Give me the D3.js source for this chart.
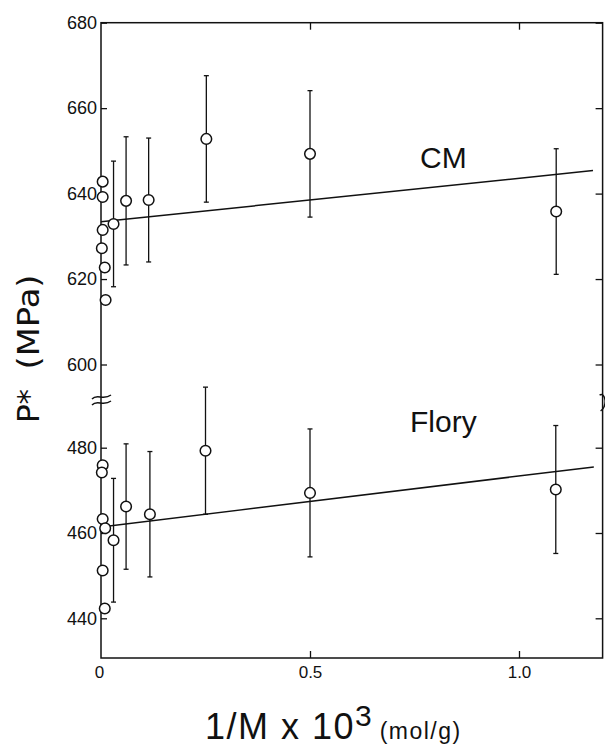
<!DOCTYPE html>
<html>
<head>
<meta charset="utf-8">
<script src="https://cdn.jsdelivr.net/npm/d3@7"></script>
<style>
  html, body { margin: 0; padding: 0; background: #fff; }
  svg { display: block; }
  text { font-family: "Liberation Sans", Arial, sans-serif; fill: #111; }
</style>
</head>
<body>
<svg id="chart" width="605" height="751"></svg>
<script>
// ---------- data ----------
// CM series: points near 1/M = 0 without error bars
const cmClusterX = [0.004, 0.004, 0.004, 0.002, 0.009, 0.011];
const cmClusterY = [642.8, 639.2, 631.5, 627.2, 622.7, 615.1];
// CM series: points with error bars
const cmX   = [0.030, 0.060, 0.114, 0.252, 0.500, 1.089];
const cmY   = [632.9, 638.3, 638.5, 652.8, 649.3, 635.8];
const cmErr = [14.7, 15.0, 14.5, 14.8, 14.8, 14.7];
const cmFit = [[0, 633.4], [1.177, 645.4]];

// Flory series
const floryClusterX = [0.004, 0.002, 0.004, 0.010, 0.004, 0.009];
const floryClusterY = [475.9, 474.2, 463.3, 461.1, 451.2, 442.3];
const floryX   = [0.030, 0.060, 0.117, 0.250, 0.500, 1.088];
const floryY   = [458.3, 466.2, 464.4, 479.3, 469.4, 470.2];
const floryErr = [14.5, 14.7, 14.7, 14.9, 15.0, 15.0];
const floryFit = [[0, 461.4], [1.179, 475.5]];

// axes
const xTicks = [0, 0.5, 1.0];
const xTickLabels = ["0", "0.5", "1.0"];
const yUpperTicks = [600, 620, 640, 660, 680];
const yLowerTicks = [440, 460, 480];
const seriesLabels = ["CM", "Flory"];

// ---------- layout ----------
const svg = d3.select("#chart");
const pLeft = 101, pRight = 602.6, pTop = 22.7, pBottom = 658;

const x = d3.scaleLinear().domain([0, 1.2]).range([pLeft, pRight]);
const yUp = d3.scaleLinear().domain([600, 680]).range([364.5, pTop]);
const yLo = d3.scaleLinear().domain([440, 480]).range([618.3, 447.7]);
const yBreak = 400;

// frame
const frame = svg.append("g").attr("fill", "none").attr("stroke", "#111").attr("stroke-width", 1.5);
frame.append("rect").attr("x", pLeft).attr("y", pTop).attr("width", pRight - pLeft).attr("height", pBottom - pTop);

// left axis (ticks inside, labels outside)
function leftAxis(scale, ticks) {
  const g = svg.append("g").attr("transform", `translate(${pLeft},0)`)
    .call(d3.axisLeft(scale).tickValues(ticks).tickSizeInner(-6).tickSizeOuter(0).tickPadding(4).tickFormat(d3.format("d")));
  g.select(".domain").remove();
  g.selectAll("line").attr("stroke", "#111").attr("stroke-width", 1.3);
  g.selectAll("text").attr("font-size", 18).attr("fill", "#111").style("font-family", "'Liberation Sans', Arial, sans-serif");
}
leftAxis(yUp, yUpperTicks);
leftAxis(yLo, yLowerTicks);

// right axis ticks (inside)
function rightAxis(scale, ticks) {
  const g = svg.append("g").attr("transform", `translate(${pRight},0)`)
    .call(d3.axisRight(scale).tickValues(ticks).tickSizeInner(-7).tickSizeOuter(0).tickFormat(""));
  g.select(".domain").remove();
  g.selectAll("line").attr("stroke", "#111").attr("stroke-width", 1.3);
}
rightAxis(yUp, yUpperTicks);
rightAxis(yLo, yLowerTicks);

// bottom axis
const gx = svg.append("g").attr("transform", `translate(0,${pBottom})`)
  .call(d3.axisBottom(x).tickValues(xTicks).tickSizeInner(-7).tickSizeOuter(0).tickPadding(8)
    .tickFormat((d, i) => xTickLabels[i]));
gx.select(".domain").remove();
gx.selectAll("line").attr("stroke", "#111").attr("stroke-width", 1.3);
gx.selectAll(".tick").filter(d => d === 0).select("line").remove();
gx.selectAll("text").attr("font-size", 17).attr("fill", "#111").style("font-family", "'Liberation Sans', Arial, sans-serif");
gx.selectAll(".tick").filter(d => d === 0).select("text").attr("dx", -2);

// top axis ticks
const gt = svg.append("g").attr("transform", `translate(0,${pTop})`)
  .call(d3.axisTop(x).tickValues(xTicks.filter(d => d > 0)).tickSizeInner(-7).tickSizeOuter(0).tickFormat(""));
gt.select(".domain").remove();
gt.selectAll("line").attr("stroke", "#111").attr("stroke-width", 1.3);

// axis break marks
const brk = svg.append("g").attr("fill", "none").attr("stroke", "#111").attr("stroke-width", 1.4);
[-3, 3].forEach(o => {
  brk.append("path").attr("d",
    `M${pLeft - 9},${yBreak + o + 2} C${pLeft - 4},${yBreak + o - 4} ${pLeft + 2},${yBreak + o + 4} ${pLeft + 10},${yBreak + o - 2}`);
});
brk.append("path").attr("d",
  `M${pRight - 3},${yBreak - 5} C${pRight + 3},${yBreak - 8} ${pRight + 5},${yBreak + 6} ${pRight - 2},${yBreak + 11}`);

// fit lines
const lineUp = d3.line().x(d => x(d[0])).y(d => yUp(d[1]));
const lineLo = d3.line().x(d => x(d[0])).y(d => yLo(d[1]));
svg.append("path").datum(cmFit).attr("d", lineUp).attr("fill", "none").attr("stroke", "#111").attr("stroke-width", 1.5);
svg.append("path").datum(floryFit).attr("d", lineLo).attr("fill", "none").attr("stroke", "#111").attr("stroke-width", 1.5);

// error bars + points
function drawSeries(xs, ys, errs, cx, cy, yScale) {
  const g = svg.append("g");
  const data = xs.map((v, i) => ({ x: v, y: ys[i], e: errs[i] }));
  const eb = g.selectAll(".eb").data(data).enter().append("g").attr("stroke", "#111").attr("stroke-width", 1.3);
  eb.append("line").attr("x1", d => x(d.x)).attr("x2", d => x(d.x))
    .attr("y1", d => yScale(d.y + d.e)).attr("y2", d => yScale(d.y - d.e));
  eb.append("line").attr("x1", d => x(d.x) - 2.5).attr("x2", d => x(d.x) + 2.5)
    .attr("y1", d => yScale(d.y + d.e)).attr("y2", d => yScale(d.y + d.e));
  eb.append("line").attr("x1", d => x(d.x) - 2.5).attr("x2", d => x(d.x) + 2.5)
    .attr("y1", d => yScale(d.y - d.e)).attr("y2", d => yScale(d.y - d.e));
  const pts = data.concat(cx.map((v, i) => ({ x: v, y: cy[i] })));
  g.selectAll("circle").data(pts).enter().append("circle")
    .attr("cx", d => x(d.x)).attr("cy", d => yScale(d.y)).attr("r", 5.3)
    .attr("fill", "#fff").attr("stroke", "#111").attr("stroke-width", 1.5);
}
drawSeries(cmX, cmY, cmErr, cmClusterX, cmClusterY, yUp);
drawSeries(floryX, floryY, floryErr, floryClusterX, floryClusterY, yLo);

// series labels
svg.append("text").attr("x", 420).attr("y", yUp(646)).attr("font-size", 30).text(seriesLabels[0]);
svg.append("text").attr("x", 410).attr("y", yLo(483.6)).attr("font-size", 30).text(seriesLabels[1]);

// y title (rotated)
svg.append("text").attr("transform", "translate(39,406) rotate(-90)").attr("text-anchor", "middle")
  .attr("font-size", 31).style("font-family", "'DejaVu Sans', sans-serif").text("P*");
svg.append("text").attr("transform", "translate(39,322) rotate(-90)").attr("text-anchor", "middle")
  .attr("font-size", 31).style("font-family", "'DejaVu Sans', sans-serif")
  .attr("textLength", 95).attr("lengthAdjust", "spacingAndGlyphs").text("(MPa)");

// x title
const xt = svg.append("text").attr("x", 205).attr("y", 739);
xt.append("tspan").attr("font-size", 36).attr("letter-spacing", 1.5).text("1/M x 10");
xt.append("tspan").attr("font-size", 30).attr("dy", -13).text("3");
xt.append("tspan").attr("font-size", 23).attr("dy", 13).attr("letter-spacing", 1.5).text(" (mol/g)");
</script>
</body>
</html>
